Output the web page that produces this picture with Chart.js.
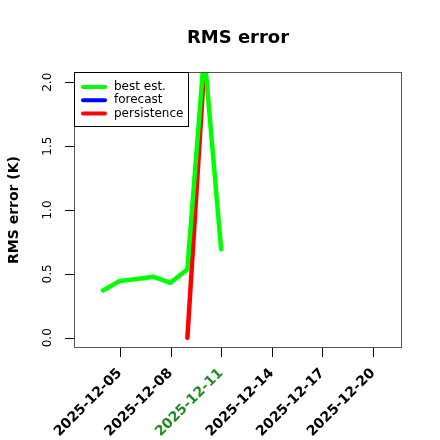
<!DOCTYPE html>
<html>
<head>
<meta charset="utf-8">
<script src="https://cdn.jsdelivr.net/npm/chart.js@4/dist/chart.umd.min.js"></script>
<style>
  html, body { margin: 0; padding: 0; background: #fff; }
  #wrap { width: 440px; height: 440px; }
</style>
</head>
<body>
<div id="wrap"><canvas id="rmsChart" width="440" height="440"></canvas></div>
<script>
// data
const bestDates = ['2025-12-04', '2025-12-05', '2025-12-06', '2025-12-07', '2025-12-08', '2025-12-09', '2025-12-10', '2025-12-11'];
const bestValues = [0.37, 0.445, 0.46, 0.477, 0.43, 0.537, 2.23, 0.693];
const forecastDates = [];
const forecastValues = [];
const persistDates = ['2025-12-09', '2025-12-10'];
const persistValues = [0.0, 2.12];
const xTickDates = ['2025-12-05', '2025-12-08', '2025-12-11', '2025-12-14', '2025-12-17', '2025-12-20'];
const yTicks = [0.0, 0.5, 1.0, 1.5, 2.0];
const todayLabel = '2025-12-11';

const dayNum = s => Date.parse(s + 'T00:00:00Z') / 86400000;
const dayLabel = v => new Date(Math.round(v) * 86400000).toISOString().slice(0, 10);
const toPoints = (dates, vals) => dates.map((d, i) => ({ x: dayNum(d), y: vals[i] }));

const xMin = dayNum('2025-12-03') - 0.72;
const xMax = dayNum('2025-12-21') + 0.72;

const FONT = "'DejaVu Sans', sans-serif";
const TICK_LEN = 9;

// box, tick marks, titles and legend the way R draws them
const rStyle = {
    id: 'rStyle',
    afterDatasetsDraw(chart) {
        const ctx = chart.ctx;
        const a = chart.chartArea;
        const xs = chart.scales.x, ys = chart.scales.y;
        ctx.save();
        ctx.strokeStyle = '#555';
        ctx.lineWidth = 1;
        ctx.strokeRect(a.left + 0.5, a.top + 0.5, a.right - a.left - 1, a.bottom - a.top - 1);

        // tick marks
        ctx.strokeStyle = '#000';
        ctx.beginPath();
        xs.ticks.forEach(t => {
            const px = Math.round(xs.getPixelForValue(t.value)) + 0.5;
            ctx.moveTo(px, a.bottom);
            ctx.lineTo(px, a.bottom + TICK_LEN);
        });
        ys.ticks.forEach(t => {
            const py = Math.round(ys.getPixelForValue(t.value)) + 0.5;
            ctx.moveTo(a.left, py);
            ctx.lineTo(a.left - TICK_LEN, py);
        });
        ctx.stroke();

        // main title
        ctx.fillStyle = '#000';
        ctx.font = 'bold 18px ' + FONT;
        ctx.textAlign = 'center';
        ctx.textBaseline = 'middle';
        ctx.fillText('RMS error', (a.left + a.right) / 2, 38);

        // y axis title
        ctx.save();
        ctx.translate(14, (a.top + a.bottom) / 2);
        ctx.rotate(-Math.PI / 2);
        ctx.font = 'bold 14px ' + FONT;
        ctx.fillText('RMS error (K)', 0, 0);
        ctx.restore();

        // legend
        const lx = a.left, ly = a.top;
        const items = chart.data.datasets;
        ctx.fillStyle = '#fff';
        ctx.fillRect(lx, ly, 114, 54);
        ctx.strokeStyle = '#000';
        ctx.strokeRect(lx + 0.5, ly + 0.5, 114, 54);
        ctx.font = '12px ' + FONT;
        ctx.textAlign = 'left';
        items.forEach((ds, i) => {
            const y = ly + 15 + i * 13.3;
            ctx.strokeStyle = ds.borderColor;
            ctx.lineWidth = 4;
            ctx.lineCap = 'round';
            ctx.beginPath();
            ctx.moveTo(lx + 9, y);
            ctx.lineTo(lx + 31, y);
            ctx.stroke();
            ctx.fillStyle = '#000';
            ctx.fillText(ds.label, lx + 40, y);
        });
        ctx.restore();
    }
};

new Chart(document.getElementById('rmsChart'), {
    type: 'line',
    data: {
        datasets: [
            { label: 'best est.', data: toPoints(bestDates, bestValues), borderColor: '#00ff00' },
            { label: 'forecast', data: toPoints(forecastDates, forecastValues), borderColor: '#0000ff' },
            { label: 'persistence', data: toPoints(persistDates, persistValues), borderColor: '#ff0000' }
        ].map(ds => Object.assign(ds, {
            borderWidth: 4.5,
            pointRadius: 0,
            tension: 0,
            fill: false,
            clip: 0,
            borderCapStyle: 'round',
            borderJoinStyle: 'round'
        }))
    },
    options: {
        responsive: false,
        animation: false,
        layout: { padding: { top: 72, right: 38, left: 0, bottom: 0 } },
        plugins: {
            legend: { display: false },
            title: { display: false },
            tooltip: { enabled: false }
        },
        scales: {
            x: {
                type: 'linear',
                min: xMin,
                max: xMax,
                afterBuildTicks: s => { s.ticks = xTickDates.map(d => ({ value: dayNum(d) })); },
                afterFit: s => { s.height = 92; },
                grid: { display: false, drawTicks: true, tickLength: TICK_LEN },
                border: { display: false },
                ticks: {
                    minRotation: 45,
                    maxRotation: 45,
                    padding: 8,
                    font: { family: FONT, size: 14, weight: 'bold' },
                    color: ctx => dayLabel(ctx.tick.value) === todayLabel ? '#228b22' : '#000',
                    callback: v => dayLabel(v)
                }
            },
            y: {
                min: -0.08,
                max: 2.08,
                afterBuildTicks: s => { s.ticks = yTicks.map(v => ({ value: v })); },
                afterFit: s => { s.width = 74; },
                grid: { display: false, drawTicks: true, tickLength: TICK_LEN },
                border: { display: false },
                ticks: {
                    minRotation: 90,
                    maxRotation: 90,
                    crossAlign: 'center',
                    padding: 8,
                    font: { family: FONT, size: 12 },
                    color: '#000',
                    callback: v => v.toFixed(1)
                }
            }
        }
    },
    plugins: [rStyle]
});
</script>
</body>
</html>
